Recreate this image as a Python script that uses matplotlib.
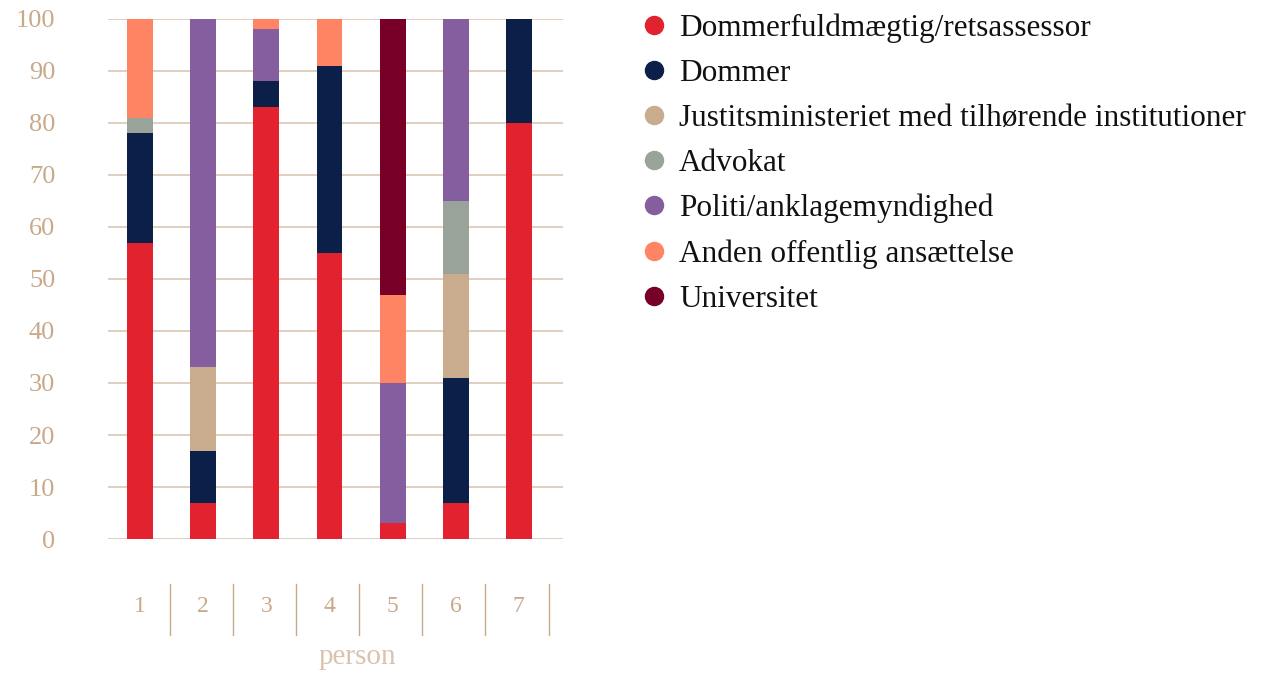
import matplotlib.pyplot as plt
from matplotlib.lines import Line2D
from matplotlib.transforms import blended_transform_factory
import numpy as np

persons = ["1", "2", "3", "4", "5", "6", "7"]
categories = ["Dommerfuldmægtig/retsassessor", "Dommer",
              "Justitsministeriet med tilhørende institutioner", "Advokat",
              "Politi/anklagemyndighed", "Anden offentlig ansættelse",
              "Universitet"]
dommerfuldmaegtig = [57, 7, 83, 55, 3, 7, 80]
dommer = [21, 10, 5, 36, 0, 24, 20]
justitsministeriet = [0, 16, 0, 0, 0, 20, 0]
advokat = [3, 0, 0, 0, 0, 14, 0]
politi = [0, 67, 10, 0, 27, 35, 0]
anden = [19, 0, 2, 9, 17, 0, 0]
universitet = [0, 0, 0, 0, 53, 0, 0]
y_ticks = [0, 10, 20, 30, 40, 50, 60, 70, 80, 90, 100]

series = [dommerfuldmaegtig, dommer, justitsministeriet, advokat,
          politi, anden, universitet]
colors = ["#E2232F", "#0C1F48", "#C9AB8D", "#9AA39A",
          "#845E9E", "#FF8464", "#780028"]

tan = "#C8A98A"
grid_col = "#DCCBB9"
serif = "Liberation Serif"

fig = plt.figure(figsize=(12.69, 6.73), dpi=100)
ax = fig.add_axes([0.0851, 0.1991, 0.3586, 0.7727])

x = np.arange(1, len(persons) + 1)
bottom = np.zeros(len(persons))
for vals, col in zip(series, colors):
    ax.bar(x, vals, width=0.41, bottom=bottom, color=col, zorder=3)
    bottom += np.array(vals)

ax.set_xlim(0.49, 7.70)
ax.set_ylim(0, 100)
for s in ax.spines.values():
    s.set_visible(False)
for t in y_ticks:
    ax.axhline(t, color=grid_col, lw=1.3, zorder=1)
ax.set_yticks(y_ticks)
ax.set_yticklabels([str(t) for t in y_ticks], family=serif, fontsize=19, color=tan)
ax.tick_params(axis="y", length=0, pad=38)
ax.set_xticks([])

# category labels below the plot, split by thin vertical rules
trans = blended_transform_factory(ax.transData, fig.transFigure)
for xi, lab in zip(x, persons):
    ax.text(xi, 1 - 607 / 673, lab, transform=trans, ha="center", va="center",
            family=serif, fontsize=17, color=tan)
    fig.add_artist(Line2D([xi + 0.47, xi + 0.47], [1 - 584 / 673, 1 - 635 / 673],
                          transform=trans, color=tan, lw=1))
fig.text(357 / 1269, 1 - 657 / 673, "person", ha="center", va="center",
         family=serif, fontsize=21, color="#D9C3AE")

handles = [Line2D([], [], ls="none", marker="o", markersize=13,
                  markerfacecolor=c, markeredgecolor=c) for c in colors]
fig.legend(handles, categories, loc="upper left",
           bbox_to_anchor=(626 / 1269, 1 + 2 / 673), frameon=False,
           prop={"family": serif, "size": 22.5}, labelspacing=0.51,
           handlelength=0.8, handletextpad=0.4, borderpad=0, labelcolor="#111111")

fig.savefig("out.png", dpi=100)
